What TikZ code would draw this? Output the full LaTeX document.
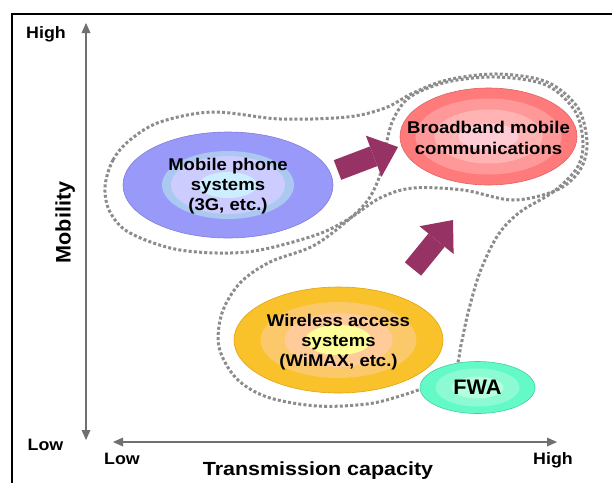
\documentclass[tikz,border=0pt]{standalone}
\usepackage{fontspec}
\usetikzlibrary{shapes.geometric, arrows.meta}

% Bold sans faces, slightly widened
\newfontfamily\lblfont{Liberation Sans}[FakeStretch=1.08]
\newfontfamily\capfont{Liberation Sans}[FakeStretch=1.13]
\newfontfamily\ellfont{Liberation Sans}[FakeStretch=1.09]
\newfontfamily\mobfont{Liberation Sans}[FakeStretch=1.03]

\definecolor{axisgray}{HTML}{707070}
\definecolor{dotgray}{HTML}{8C8C8C}
\definecolor{arrowcol}{HTML}{963264}
% ellipse fills, from rim to centre
\definecolor{blueA}{HTML}{9999FA}
\definecolor{blueB}{HTML}{AAC8F0}
\definecolor{blueC}{HTML}{CCCCFF}
\definecolor{blueD}{HTML}{CDEEFF}
\definecolor{blueRim}{HTML}{7E7EDC}
\definecolor{redA}{HTML}{FF7B7B}
\definecolor{redB}{HTML}{FF9999}
\definecolor{redC}{HTML}{FFB3B3}
\definecolor{redD}{HTML}{FFCCD5}
\definecolor{redRim}{HTML}{E06262}
\definecolor{yelA}{HTML}{F9C22A}
\definecolor{yelB}{HTML}{FBC86A}
\definecolor{yelC}{HTML}{FFCC99}
\definecolor{yelD}{HTML}{FFFF99}
\definecolor{yelRim}{HTML}{E0A410}
\definecolor{grnA}{HTML}{64FAC8}
\definecolor{grnB}{HTML}{8CFAD2}
\definecolor{grnC}{HTML}{B4FFDC}
\definecolor{grnRim}{HTML}{40D0A0}

\begin{document}
\begin{tikzpicture}[x=1pt, y=-1pt,
  axis/.style={draw=axisgray, line width=1.6pt,
    {Triangle[width=9pt,length=10pt,line width=0pt]}-{Triangle[width=9pt,length=10pt,line width=0pt]}},
  endlbl/.style={font=\lblfont\bfseries\fontsize{16.5}{18}\selectfont, inner sep=0pt, anchor=base},
  dots/.style={draw=dotgray, line width=3pt, dash pattern=on 3pt off 2.2pt},
  blob/.style={ellipse, inner sep=0pt, line width=0.6pt},
  blobtext/.style={font=\ellfont\bfseries\fontsize{17}{20}\selectfont, align=center, inner sep=0pt},
  fatarrow/.style={draw=arrowcol, line width=21pt,
    -{Triangle[width=44pt,length=26pt,line width=0pt]}}
]
\useasboundingbox (0,0) rectangle (612,482);
\fill[white] (0,0) rectangle (612,482);

% frame
\draw[line width=2pt] (12,484) -- (12,14) -- (614,14);

% axes
\coordinate (ytop) at (86,23);
\coordinate (ybot) at (86,440);
\coordinate (xleft) at (113,442);
\coordinate (xright) at (557,442);
\draw[axis] (ybot) -- (ytop);
\draw[axis] (xleft) -- (xright);

\node[endlbl] (yhigh) at (46,38) {High};
\node[endlbl] (ylow) at (45.5,450) {Low};
\node[endlbl] (xlow) at (122,464) {Low};
\node[endlbl] (xhigh) at (553,464) {High};
\node[font=\capfont\bfseries\fontsize{19}{21}\selectfont, inner sep=0pt, anchor=base]
  (xtitle) at (318,475) {Transmission capacity};
\node[font=\mobfont\bfseries\fontsize{21}{23}\selectfont, inner sep=0pt, anchor=base, rotate=90]
  (ytitle) at (70.7,222.5) {Mobility};

% dotted groupings
\draw[dots] plot[smooth cycle, tension=0.55] coordinates {
  (105,187) (113,160) (130,140) (160,122) (213,112) (280,119) (347,117)
  (385,108) (413,93) (447,80) (497,74) (547,82) (578,108) (587,143)
  (580,170) (557,190) (513,200) (463,190) (413,188) (380,198) (347,220)
  (313,236) (247,252) (180,250) (130,233) (110,212)};
\draw[dots] plot[smooth cycle, tension=0.55] coordinates {
  (447,82) (497,77) (546,85) (575,111) (583,143) (577,168) (553,192)
  (520,212) (498,235) (480,272) (468,313) (461,345) (455,368)
  (430,385) (400,396) (367,404) (317,406) (267,397) (236,378) (219,347)
  (222,313) (240,283) (270,262) (313,246) (347,221) (368,200) (380,175)
  (385,150) (393,120) (410,97)};

% mobile phone systems
\node[blob, fill=blueA, draw=blueRim, minimum width=210pt, minimum height=106pt] (mobile) at (228,185) {};
\fill[blueB] (mobile.center) ellipse [x radius=66pt, y radius=34pt];
\fill[blueC] (mobile.center) ellipse [x radius=57pt, y radius=29pt];
\fill[blueD] (mobile.center) ellipse [x radius=29pt, y radius=13pt];
\node[blobtext] (mobiletext) at (228,186) {Mobile phone\\systems\\(3G, etc.)};

% broadband mobile communications
\node[blob, fill=redA, draw=redRim, minimum width=177pt, minimum height=97pt] (bb) at (488.5,136.5) {};
\fill[redB] (bb.center) ellipse [x radius=73pt, y radius=38pt];
\fill[redC] (bb.center) ellipse [x radius=54pt, y radius=27pt];
\fill[redD] (bb.center) ellipse [x radius=30pt, y radius=13pt];
\node[blobtext, font=\ellfont\bfseries\fontsize{17}{21.5}\selectfont] (bbtext) at (488.5,138) {Broadband mobile\\communications};

% wireless access systems
\node[blob, fill=yelA, draw=yelRim, minimum width=209pt, minimum height=106pt] (wireless) at (338.5,340) {};
\fill[yelB] (wireless.center) ellipse [x radius=78pt, y radius=38pt];
\fill[yelC] (wireless.center) ellipse [x radius=54pt, y radius=27pt];
\fill[yelD] (wireless.center) ellipse [x radius=33pt, y radius=15pt];
\node[blobtext] (wirelesstext) at (338.5,342.5) {Wireless access\\systems\\(WiMAX, etc.)};

% FWA
\node[blob, fill=grnA, draw=grnRim, minimum width=115pt, minimum height=52pt] (fwa) at (477.5,387.5) {};
\fill[grnB] (fwa.center) ellipse [x radius=42pt, y radius=19pt];
\fill[grnC] (fwa.center) ellipse [x radius=26pt, y radius=11pt];
\node[font=\mobfont\bfseries\fontsize{21}{23}\selectfont, inner sep=0pt] (fwatext) at (477.5,387.5) {FWA};

% evolution arrows
\coordinate (a1s) at (337.5,170);
\coordinate (a1e) at (398,147);
\coordinate (a2s) at (413,269);
\coordinate (a2e) at (453,220);
\draw[fatarrow] (a1s) -- (a1e);
\draw[fatarrow] (a2s) -- (a2e);
\end{tikzpicture}
\end{document}
